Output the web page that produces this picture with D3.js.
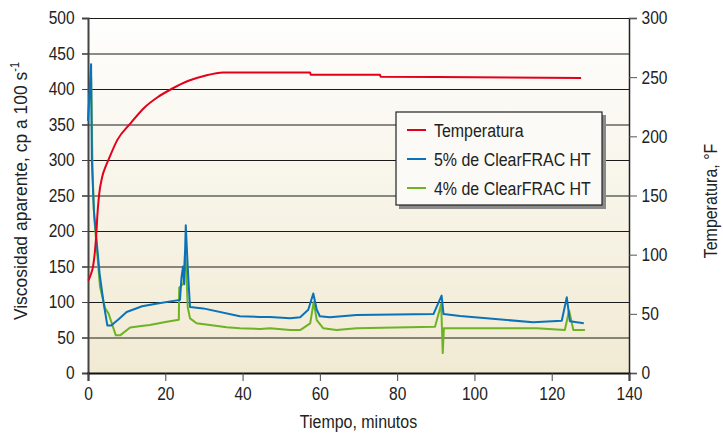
<!DOCTYPE html>
<html>
<head>
<meta charset="utf-8">
<script src="https://cdn.jsdelivr.net/npm/d3@7"></script>
<style>
  body { margin: 0; background: #fff; }
  text { font-family: "Liberation Sans", Arial, sans-serif; fill: #222; }
</style>
</head>
<body>
<div id="chart"></div>
<script>
// --data-- [tiempo (min), valor]
const xTicks = [0, 20, 40, 60, 80, 100, 120, 140];
const leftTicks = [0, 50, 100, 150, 200, 250, 300, 350, 400, 450, 500];
const rightTicks = [0, 50, 100, 150, 200, 250, 300];

// temperatura en °F (eje derecho)
const temperatura = [
  [0.1, 78], [0.7, 83], [1.3, 90], [1.8, 103], [2.2, 120], [2.4, 132],
  [2.85, 150], [3.7, 166], [4.5, 174], [5.4, 181], [7.6, 197], [11, 211],
  [14.5, 224], [18, 233], [21.6, 240], [26, 247], [30, 251], [35, 254],
  [57.5, 254], [57.6, 252], [75.6, 252], [75.7, 250.4], [100, 250], [127.6, 249.3]
];

// viscosidad 5% de ClearFRAC HT (eje izquierdo)
const clear5 = [
  [0, 355], [0.8, 435], [1.0, 300], [1.5, 230], [2, 200], [3, 140], [4, 100],
  [5, 67], [6, 67], [8, 76], [10, 86], [14, 94], [18, 98], [23.8, 103],
  [24.2, 135], [24.6, 150], [24.9, 125], [25.3, 208], [25.8, 150], [26.1, 120],
  [26.4, 93], [29.8, 91], [39.3, 80], [44.5, 79], [47.1, 79], [52.3, 77],
  [54.9, 78.5], [57, 89], [58.3, 112], [59.2, 89], [60, 80], [62.6, 78.5],
  [69.5, 81.7], [89.4, 83], [91.5, 109], [92, 83], [96.3, 80.3], [115.2, 71.4],
  [122.6, 73.7], [123.9, 106.6], [124.7, 73], [128.3, 70]
];

// viscosidad 4% de ClearFRAC HT (eje izquierdo)
const clear4 = [
  [0, 355], [0.8, 416], [1.2, 281], [1.6, 220], [3.1, 121.5], [4.4, 91.5],
  [5.3, 84], [7.2, 53], [8.3, 53], [10.9, 64], [14.3, 66.6], [16, 67.6],
  [20.4, 72.3], [23.5, 75], [23.6, 120], [24.7, 126], [25.1, 171], [25.5, 136],
  [25.8, 93], [26.4, 77], [28.1, 70], [35.9, 64.3], [39.3, 63], [44.5, 62],
  [47.1, 63], [52.3, 60.5], [54.9, 60.5], [57.5, 70], [58.4, 100], [59.2, 74.6],
  [60.9, 63], [64.3, 60.5], [69.5, 63], [89.8, 65.2], [91.4, 97], [91.8, 28],
  [92.1, 63], [116.1, 63], [123.4, 60.5], [124.5, 88], [125.6, 60.5], [128.6, 60.5]
];

const series = [
  { name: "Temperatura", data: temperatura, color: "#e3001b", axis: "right" },
  { name: "5% de ClearFRAC HT", data: clear5, color: "#0a72b9", axis: "left" },
  { name: "4% de ClearFRAC HT", data: clear4, color: "#6db324", axis: "left" }
];

// --chart--
const WIDTH = 723, HEIGHT = 433;
const m = { left: 88, right: 629, top: 18, bottom: 373 };
const NARROW = 0.84;  // condensed look

const svg = d3.select("#chart").append("svg")
  .attr("width", WIDTH)
  .attr("height", HEIGHT);

const x = d3.scaleLinear().domain([0, 140]).range([m.left, m.right]);
const yL = d3.scaleLinear().domain([0, 500]).range([m.bottom, m.top]);
const yR = d3.scaleLinear().domain([0, 300]).range([m.bottom, m.top]);

// background gradient
const grad = svg.append("defs").append("linearGradient")
  .attr("id", "bg").attr("x1", 0).attr("y1", 0).attr("x2", 0).attr("y2", 1);
grad.append("stop").attr("offset", "0%").attr("stop-color", "#fefefd");
grad.append("stop").attr("offset", "100%").attr("stop-color", "#f1ead3");

svg.append("rect")
  .attr("x", m.left).attr("y", m.top)
  .attr("width", m.right - m.left).attr("height", m.bottom - m.top)
  .attr("fill", "url(#bg)");

// gridlines
svg.append("g").selectAll("line")
  .data(leftTicks.filter(d => d > 0))
  .join("line")
  .attr("x1", m.left - 6).attr("x2", m.right)
  .attr("y1", d => yL(d) + 0.5).attr("y2", d => yL(d) + 0.5)
  .attr("stroke", "#1a1a1a").attr("stroke-width", 1.1);

// left axis
const axL = svg.append("g")
  .attr("transform", `translate(${m.left},0)`)
  .call(d3.axisLeft(yL).tickValues(leftTicks).tickSize(6));
axL.select(".domain").attr("stroke", "#444").attr("stroke-width", 2);
axL.selectAll(".tick line").attr("stroke", "#444");
axL.selectAll("text")
  .attr("x", -16)
  .attr("transform", `scale(${NARROW},1)`)
  .style("font-size", "18.5px").attr("fill", "#222");

// right axis
const axR = svg.append("g")
  .attr("transform", `translate(${m.right},0)`)
  .call(d3.axisRight(yR).tickValues(rightTicks).tickSize(8));
axR.select(".domain").attr("stroke", "#222").attr("stroke-width", 1.5);
axR.selectAll(".tick line").attr("stroke", "#555");
axR.selectAll("text")
  .attr("x", 15)
  .attr("transform", `scale(${NARROW},1)`)
  .style("font-size", "18.5px").attr("fill", "#222");

// bottom axis
const axB = svg.append("g")
  .attr("transform", `translate(0,${m.bottom})`)
  .call(d3.axisBottom(x).tickValues(xTicks).tickSize(8).tickPadding(6));
axB.select(".domain").attr("stroke", "#111").attr("stroke-width", 2);
axB.selectAll(".tick line").attr("stroke", "#444");
axB.selectAll("text")
  .attr("transform", `scale(${NARROW},1)`)
  .style("font-size", "18.5px").attr("fill", "#222");

// axis titles
svg.append("text")
  .attr("transform", `translate(${(m.left + m.right) / 2},428) scale(${NARROW},1)`)
  .attr("text-anchor", "middle")
  .style("font-size", "19px")
  .text("Tiempo, minutos");

const ltitle = svg.append("text")
  .attr("transform", "translate(27,191) rotate(-90) scale(0.92,1)")
  .attr("text-anchor", "middle")
  .style("font-size", "19px");
ltitle.append("tspan").text("Viscosidad aparente, cp a 100 s");
ltitle.append("tspan").attr("dy", -8).style("font-size", "12px").text("-1");

svg.append("text")
  .attr("transform", `translate(717,201) rotate(-90) scale(${NARROW},1)`)
  .attr("text-anchor", "middle")
  .style("font-size", "19px")
  .text("Temperatura, °F");

// lines
const lineL = d3.line().x(d => x(d[0])).y(d => yL(d[1]));
const lineR = d3.line().x(d => x(d[0])).y(d => yR(d[1])).curve(d3.curveMonotoneX);

svg.append("g").selectAll("path")
  .data(series.slice().reverse())
  .join("path")
  .attr("d", s => (s.axis == "right" ? lineR : lineL)(s.data))
  .attr("fill", "none")
  .attr("stroke", s => s.color)
  .attr("stroke-width", 2)
  .attr("stroke-linejoin", "round");

// legend
const lg = svg.append("g").attr("transform", "translate(396,112)");
lg.append("rect")
  .attr("x", 3).attr("y", 3).attr("width", 207).attr("height", 94)
  .attr("fill", "#8a8a8a");
lg.append("rect")
  .attr("x", 0).attr("y", 0).attr("width", 206).attr("height", 93)
  .attr("fill", "#fbfaf6").attr("stroke", "#222").attr("stroke-width", 1.2);

const items = lg.selectAll(".item")
  .data(series)
  .join("g")
  .attr("class", "item")
  .attr("transform", (d, i) => `translate(0,${18 + i * 29})`);
items.append("line")
  .attr("x1", 11).attr("x2", 30)
  .attr("stroke", d => d.color).attr("stroke-width", 2);
items.append("text")
  .attr("transform", `translate(38,6.5) scale(${NARROW},1)`)
  .style("font-size", "19px")
  .text(d => d.name);
</script>
</body>
</html>
